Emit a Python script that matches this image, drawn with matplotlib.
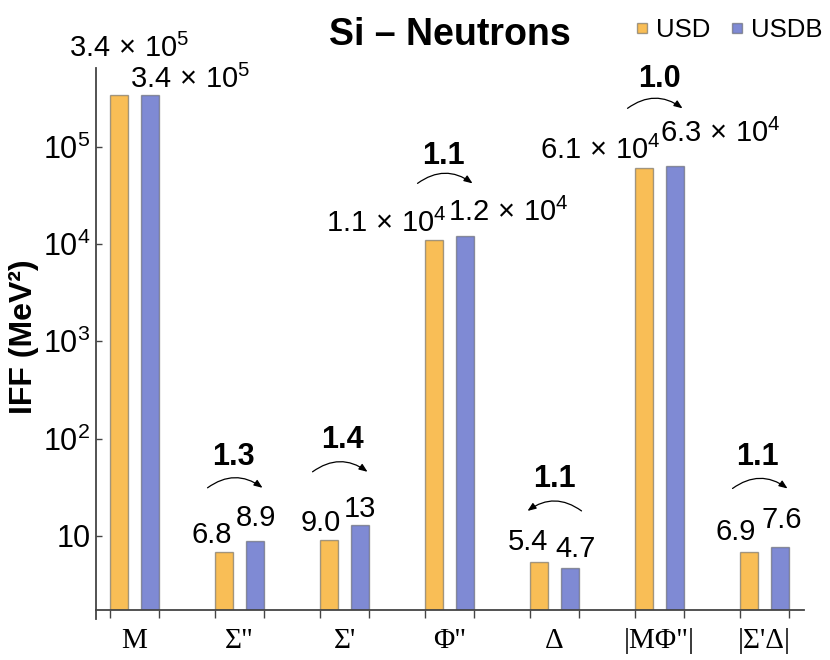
import numpy as np
import matplotlib
matplotlib.use("Agg")
import matplotlib.pyplot as plt
from matplotlib.lines import Line2D
from matplotlib.transforms import offset_copy

plt.rcParams['font.family'] = ['Liberation Sans', 'DejaVu Sans']
plt.rcParams['mathtext.fontset'] = 'custom'
plt.rcParams['mathtext.rm'] = 'Liberation Sans'
plt.rcParams['mathtext.it'] = 'Liberation Sans:italic'
plt.rcParams['mathtext.bf'] = 'Liberation Sans:bold'

# data
operators = ['M', 'Σ"', "Σ'", 'Φ"', 'Δ', '|MΦ"|', "|Σ'Δ|"]
usd = [3.4e5, 6.8, 9.0, 1.1e4, 5.4, 6.1e4, 6.9]
usdb = [3.4e5, 8.9, 13, 1.2e4, 4.7, 6.3e4, 7.6]
usd_labels = [r'3.4$\,\times\,$10$^{5}$', '6.8', '9.0', r'1.1$\,\times\,$10$^{4}$', '5.4',
              r'6.1$\,\times\,$10$^{4}$', '6.9']
usdb_labels = [r'3.4$\,\times\,$10$^{5}$', '8.9', '13', r'1.2$\,\times\,$10$^{4}$', '4.7',
               r'6.3$\,\times\,$10$^{4}$', '7.6']
ratios = [None, '1.3', '1.4', '1.1', '1.1', '1.0', '1.1']

orange = '#F9BE56'
blue = '#7F8AD4'
edge = (0.35, 0.35, 0.35, 0.55)
axis_col = '#444444'

# label placement (pixels, relative to bar top)
usd_off = [(10, 38), (-12, 9), (-8, 9), (-48, 8), (-11, 12), (-44, 9), (-13, 12)]
usdb_off = [(40, 7), (1, 15), (0, 8), (43, 15), (5, 11), (45, 24), (2, 19)]
arrow_dy = [0, 53, 53, 53, 51, 58, 59]
text_dy = [0, 76, 77, 72, 75, 79, 82]
text_dx = [0, -6, -2, -6, 0, 0, -7]

fig = plt.figure(figsize=(8.3, 6.6), dpi=100)
ax = fig.add_axes([96/830, 1-610/660, (804-96)/830, (610-68)/660])

x = np.arange(len(operators))
w = 0.176
off = 0.148
ax.bar(x - off, usd, width=w, color=orange, edgecolor=edge, linewidth=1, zorder=2)
ax.bar(x + off, usdb, width=w, color=blue, edgecolor=edge, linewidth=1, zorder=2)

ax.set_yscale('log')
ax.set_ylim(1.73, 6.46e5)
ax.set_xlim(-0.367, 6.376)

for s in ['top', 'right']:
    ax.spines[s].set_visible(False)
for s in ['left', 'bottom']:
    ax.spines[s].set_color(axis_col)
    ax.spines[s].set_linewidth(1.3)
ax.plot([0, 0], [0, -0.016], transform=ax.transAxes, clip_on=False,
        color=axis_col, lw=1.3)

ax.set_yticks([10, 1e2, 1e3, 1e4, 1e5])
ax.set_yticklabels(['10', '10$^{2}$', '10$^{3}$', '10$^{4}$', '10$^{5}$'])
ax.yaxis.set_minor_locator(matplotlib.ticker.NullLocator())
ax.tick_params(axis='y', direction='in', length=4, width=1, color=axis_col,
               labelsize=22, pad=4)

ax.set_xticks(x)
ax.set_xticklabels(operators, fontfamily='Liberation Serif', fontsize=21)
ax.tick_params(axis='x', which='major', length=0, pad=13)
ax.set_xticks(np.concatenate([x - 0.233, x + 0.233]), minor=True)
ax.tick_params(axis='x', which='minor', direction='out', length=6, width=1,
               color=axis_col)

for i in range(len(operators)):
    ax.annotate(usd_labels[i], xy=(x[i] - off, usd[i]), xytext=usd_off[i],
                textcoords='offset pixels', ha='center', va='baseline', fontsize=21)
    ax.annotate(usdb_labels[i], xy=(x[i] + off, usdb[i]), xytext=usdb_off[i],
                textcoords='offset pixels', ha='center', va='baseline', fontsize=21)
    if ratios[i] is None:
        continue
    top = max(usd[i], usdb[i])
    if usdb[i] >= usd[i]:
        sx, ex, rad = -32, 23, -0.36
    else:
        sx, ex, rad = 27, -27, 0.36
    ax.annotate('', xy=(x[i], top),
                xycoords=offset_copy(ax.transData, fig=fig, x=ex, y=arrow_dy[i], units='dots'),
                xytext=(x[i], top),
                textcoords=offset_copy(ax.transData, fig=fig, x=sx, y=arrow_dy[i], units='dots'),
                arrowprops=dict(arrowstyle='-|>,head_length=0.5,head_width=0.2',
                                connectionstyle=f'arc3,rad={rad}', color='black',
                                lw=0.9, shrinkA=0, shrinkB=0))
    ax.annotate(ratios[i], xy=(x[i], top), xytext=(text_dx[i], text_dy[i]),
                textcoords='offset pixels', ha='center', va='baseline',
                fontsize=22, fontweight='bold')

fig.text(450/830, 1-45/660, 'Si – Neutrons', ha='center', va='baseline',
         fontsize=27, fontweight='bold')
fig.text(24/830, 1-337/660, 'IFF (MeV²)', rotation=90, ha='center', va='center',
         fontsize=23, fontweight='bold')

handles = [Line2D([], [], marker='s', linestyle='none', markersize=6.5,
                  markerfacecolor=orange, markeredgecolor=edge),
           Line2D([], [], marker='s', linestyle='none', markersize=6.5,
                  markerfacecolor=blue, markeredgecolor=edge)]
fig.legend(handles, ['USD', 'USDB'], loc='center', bbox_to_anchor=(729/830, 1-30/660),
           ncol=2, frameon=False, fontsize=18.5, handlelength=0.5, handletextpad=0.3,
           columnspacing=0.8, borderpad=0, borderaxespad=0)

fig.savefig('out.png', dpi=100)
